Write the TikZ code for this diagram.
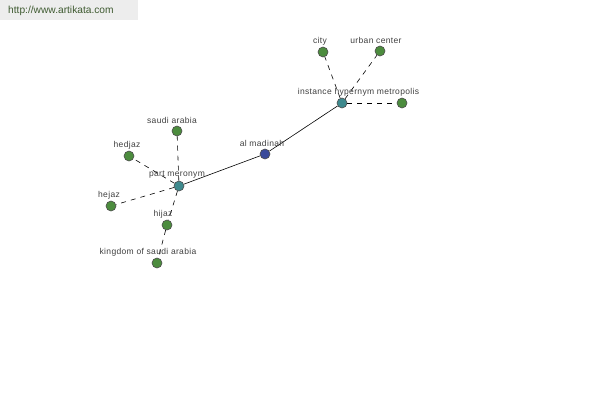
\documentclass[tikz,border=0pt]{standalone}
\usepackage{fontspec}
\setmainfont{Liberation Sans}
\newfontfamily\lblfont[LetterSpace=4]{Liberation Sans}
\begin{document}
\begin{tikzpicture}[x=1pt,y=-1pt,
  dot/.style={circle,draw=black!70,line width=0.6pt,minimum size=10pt,inner sep=0pt},
  leaf/.style={dot,fill=leafgreen},
  hub/.style={dot,fill=hubteal},
  root/.style={dot,fill=rootblue},
  lbl/.style={font=\lblfont\fontsize{8.5}{9}\selectfont,text=black!75,inner sep=0pt},
  dashline/.style={dash pattern=on 5pt off 5pt,line width=0.6pt},
  solidline/.style={line width=0.6pt}]
\definecolor{leafgreen}{HTML}{4C8C3E}
\definecolor{hubteal}{HTML}{3E8A8E}
\definecolor{rootblue}{HTML}{3A4A9A}
\definecolor{wmtext}{HTML}{3E5A30}
\useasboundingbox (0,0) rectangle (600,400);
\fill[white] (0,0) rectangle (600,400);
\fill[black!7] (0,0) rectangle (138,20);
\node[inner sep=0pt,text=wmtext,font=\fontsize{10.2}{11}\selectfont,anchor=west] (wm) at (8,11) {http://www.artikata.com};
% nodes
\node[root] (am) at (265,154) {};
\node[hub] (ih) at (342,103) {};
\node[hub] (pm) at (179,186) {};
\node[leaf] (city) at (323,52) {};
\node[leaf] (uc) at (380,51) {};
\node[leaf] (met) at (402,103) {};
\node[leaf] (sa) at (177,131) {};
\node[leaf] (hedjaz) at (129,156) {};
\node[leaf] (hejaz) at (111,206) {};
\node[leaf] (hijaz) at (167,225) {};
\node[leaf] (ksa) at (157,263) {};
% edges
\draw[solidline] (am) -- (ih);
\draw[solidline] (am) -- (pm);
\draw[dashline] (ih) -- (city);
\draw[dashline] (ih) -- (uc);
\draw[dashline] (ih) -- (met);
\draw[dashline] (pm) -- (sa);
\draw[dashline] (pm) -- (hedjaz);
\draw[dashline] (pm) -- (hejaz);
\draw[dashline] (pm) -- (hijaz);
\draw[dashline] (hijaz) -- (ksa);
% labels
\node[lbl] (l-am) at (262,143) {al madinah};
\node[lbl] (l-ih) at (336,92) {instance hypernym};
\node[lbl] (l-met) at (398,92) {metropolis};
\node[lbl] (l-city) at (320,41) {city};
\node[lbl] (l-uc) at (376,40) {urban center};
\node[lbl] (l-pm) at (177,175) {part meronym};
\node[lbl] (l-sa) at (172,120) {saudi arabia};
\node[lbl] (l-hedjaz) at (127,145) {hedjaz};
\node[lbl] (l-hejaz) at (109,195) {hejaz};
\node[lbl] (l-hijaz) at (163,214) {hijaz};
\node[lbl] (l-ksa) at (148,252) {kingdom of saudi arabia};
\end{tikzpicture}
\end{document}
